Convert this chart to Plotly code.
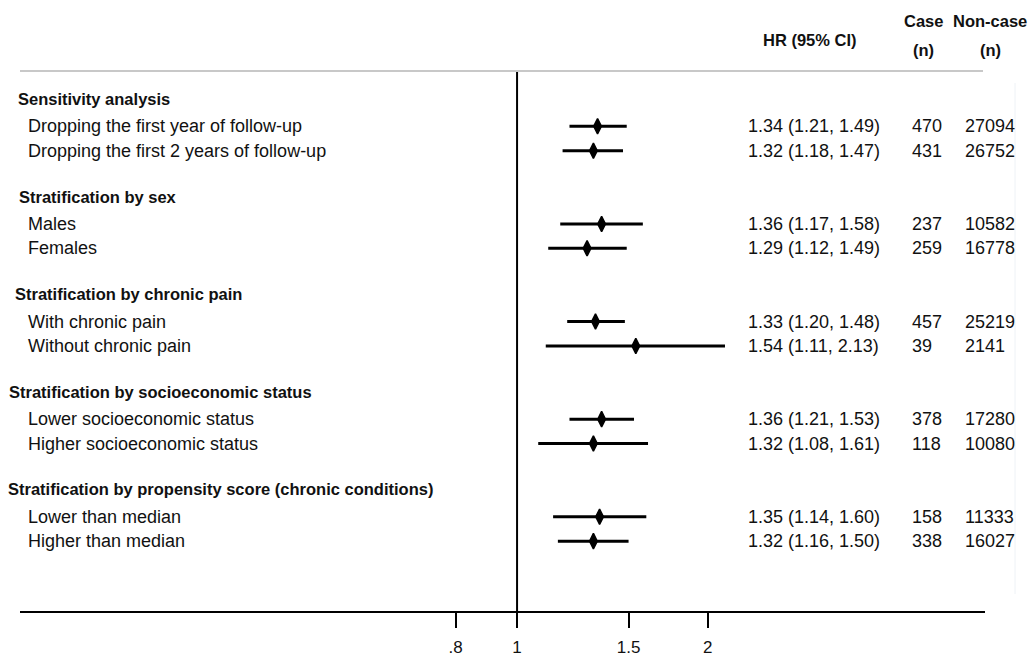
import plotly.graph_objects as go

# ---------------- data ----------------
group_titles = [
    "Sensitivity analysis",
    "Stratification by sex",
    "Stratification by chronic pain",
    "Stratification by socioeconomic status",
    "Stratification by propensity score (chronic conditions)",
]
row_labels = [
    ["Dropping the first year of follow-up", "Dropping the first 2 years of follow-up"],
    ["Males", "Females"],
    ["With chronic pain", "Without chronic pain"],
    ["Lower socioeconomic status", "Higher socioeconomic status"],
    ["Lower than median", "Higher than median"],
]
hr = [[1.34, 1.32], [1.36, 1.29], [1.33, 1.54], [1.36, 1.32], [1.35, 1.32]]
ci_low = [[1.21, 1.18], [1.17, 1.12], [1.20, 1.11], [1.21, 1.08], [1.14, 1.16]]
ci_high = [[1.49, 1.47], [1.58, 1.49], [1.48, 2.13], [1.53, 1.61], [1.60, 1.50]]
cases = [[470, 431], [237, 259], [457, 39], [378, 118], [158, 338]]
noncases = [[27094, 26752], [10582, 16778], [25219, 2141], [17280, 10080], [11333, 16027]]
tick_values = [0.8, 1, 1.5, 2]
tick_labels = [".8", "1", "1.5", "2"]

# ---------------- layout helpers ----------------
W, H = 1033, 656
# plot area in window pixels: x 20..985, y 71..611
ML, MR, MT, MB = 20, 1033 - 985, 71, 656 - 611
PW = W - ML - MR
PH = H - MT - MB
UNIT = 24.4          # pixels per text line
Y0_PX = 99           # window pixel of first heading


def px_x(px):
    return (px - ML) / PW


def px_y(py):
    return (MT + PH - py) / PH


y_top = (MT - Y0_PX) / UNIT
y_bot = (MT + PH - Y0_PX) / UNIT

FONT = "Liberation Sans, Arial, sans-serif"
TXT = "#111111"
heading_x = [16, 17, 13, 7, 6]

fig = go.Figure()
annotations = []

ci_x, ci_y, mk_x, mk_y = [], [], [], []
for g, title in enumerate(group_titles):
    yh = 4 * g
    annotations.append(dict(
        x=px_x(heading_x[g]), y=yh, xref="paper", yref="y", xanchor="left",
        yanchor="middle", showarrow=False, text="<b>" + title + "</b>",
        font=dict(family=FONT, size=16.5, color=TXT)))
    for i, lab in enumerate(row_labels[g]):
        yr = yh + 1.12 + i
        ci_x += [ci_low[g][i], ci_high[g][i], None]
        ci_y += [yr, yr, None]
        mk_x.append(hr[g][i])
        mk_y.append(yr)
        annotations.append(dict(
            x=px_x(26), y=yr, xref="paper", yref="y", xanchor="left",
            yanchor="middle", showarrow=False, text=lab,
            font=dict(family=FONT, size=18, color=TXT)))
        annotations.append(dict(
            x=px_x(746), y=yr, xref="paper", yref="y", xanchor="left",
            yanchor="middle", showarrow=False,
            text=f"{hr[g][i]:.2f} ({ci_low[g][i]:.2f}, {ci_high[g][i]:.2f})",
            font=dict(family=FONT, size=18, color=TXT)))
        annotations.append(dict(
            x=px_x(910), y=yr, xref="paper", yref="y", xanchor="left",
            yanchor="middle", showarrow=False, text=str(cases[g][i]),
            font=dict(family=FONT, size=18, color=TXT)))
        annotations.append(dict(
            x=px_x(963), y=yr, xref="paper", yref="y", xanchor="left",
            yanchor="middle", showarrow=False, text=str(noncases[g][i]),
            font=dict(family=FONT, size=18, color=TXT)))

# column headers
hdr_font = dict(family=FONT, size=16.5, color=TXT)
for txt, cx, cy in [("HR (95% CI)", 810, 40), ("Case", 923, 21), ("(n)", 923, 50),
                    ("Non-case", 990, 21), ("(n)", 990, 50)]:
    annotations.append(dict(
        x=px_x(cx), y=px_y(cy), xref="paper", yref="paper", xanchor="center",
        yanchor="middle", showarrow=False, text="<b>" + txt + "</b>", font=hdr_font))

# reference line at HR = 1
fig.add_trace(go.Scatter(x=[1, 1], y=[y_top, y_bot], mode="lines",
                         line=dict(color="black", width=2), hoverinfo="skip",
                         showlegend=False))
# confidence intervals
fig.add_trace(go.Scatter(x=ci_x, y=ci_y, mode="lines",
                         line=dict(color="black", width=3), showlegend=False))
# point estimates
fig.add_trace(go.Scatter(x=mk_x, y=mk_y, mode="markers",
                         marker=dict(symbol="diamond-tall", size=11, color="black",
                                     line=dict(color="black", width=1.5)),
                         showlegend=False))

shapes = [
    dict(type="line", xref="paper", yref="paper", x0=px_x(20), x1=px_x(983),
         y0=px_y(71), y1=px_y(71), line=dict(color="#c8c8c8", width=2)),
    dict(type="line", xref="paper", yref="paper", x0=px_x(1015), x1=px_x(1015),
         y0=px_y(83), y1=px_y(594), line=dict(color="#eef2f6", width=1)),
]

fig.update_layout(
    width=W, height=H, autosize=False,
    margin=dict(l=ML, r=MR, t=MT, b=MB, pad=0),
    paper_bgcolor="white", plot_bgcolor="white",
    annotations=annotations, shapes=shapes,
    showlegend=False,
    xaxis=dict(type="log", range=[-0.785, 0.739], showgrid=False, zeroline=False,
               automargin=False,
               showline=True, linecolor="black", linewidth=2,
               ticks="outside", ticklen=15, tickwidth=2, tickcolor="black",
               tickvals=tick_values, ticktext=tick_labels,
               ticklabelstandoff=5,
               tickfont=dict(family=FONT, size=17, color=TXT)),
    yaxis=dict(range=[y_bot, y_top], visible=False, showgrid=False, zeroline=False,
               automargin=False),
)

fig.write_html(
    "out.html",
    config={"displayModeBar": False},
    post_script="document.body.style.margin='0';document.body.style.overflow='hidden';",
)
